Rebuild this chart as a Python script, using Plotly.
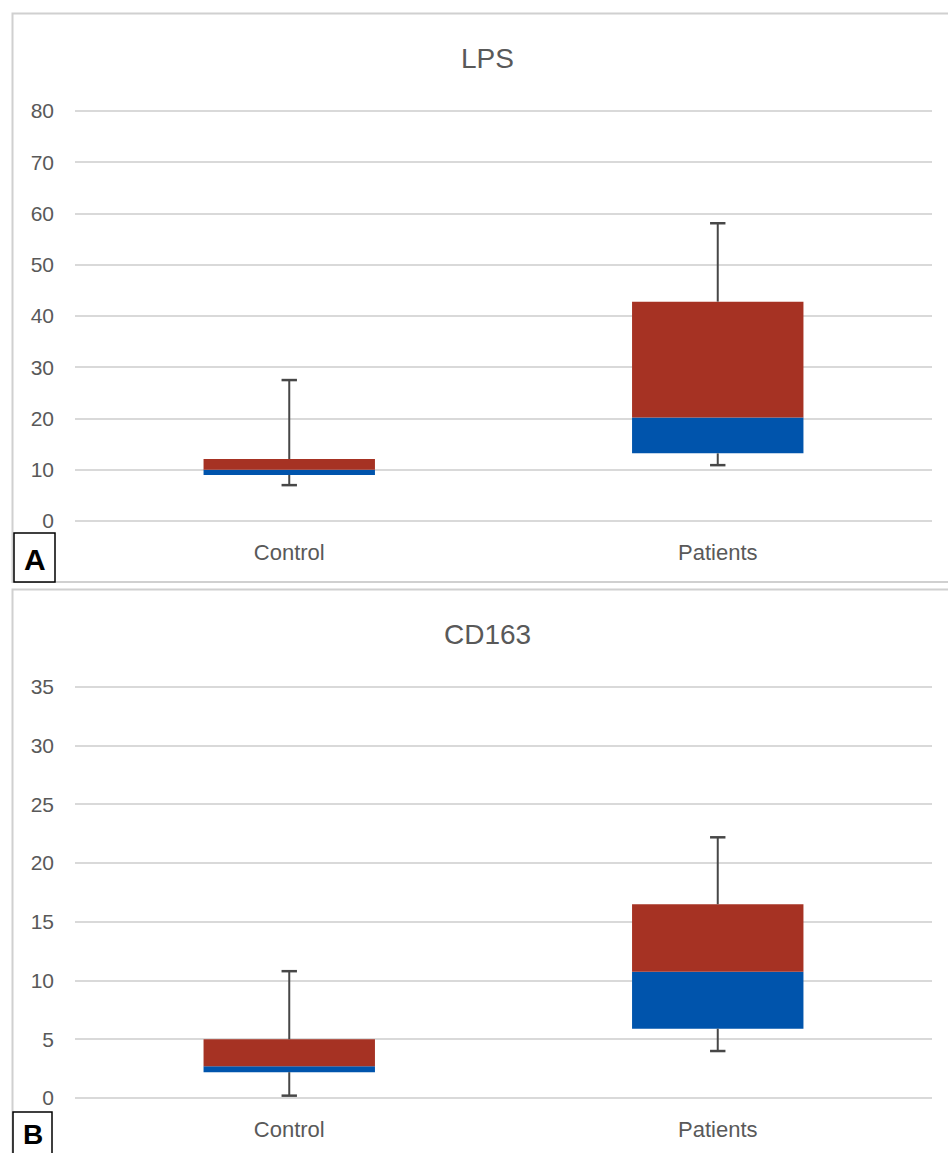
import plotly.graph_objects as go

W, H = 948, 1153

categories = ["Control", "Patients"]

# Panel A: LPS
lps_min = [7.0, 10.9]
lps_q1 = [9.0, 13.2]
lps_median = [10.0, 20.2]
lps_q3 = [12.1, 42.8]
lps_max = [27.5, 58.1]

# Panel B: CD163
cd_min = [0.2, 4.0]
cd_q1 = [2.2, 5.9]
cd_median = [2.7, 10.75]
cd_q3 = [5.0, 16.5]
cd_max = [10.8, 22.2]

lps_ticks = [0, 10, 20, 30, 40, 50, 60, 70, 80]
cd_ticks = [0, 5, 10, 15, 20, 25, 30, 35]

BLUE = "#0054AC"
RED = "#A63223"
WHISK = "#474747"
TXT = "#595959"
GRID = "#D9D9D9"
FONT = "Liberation Sans, Arial, sans-serif"


def px_x(x):
    return x / W


def px_y(y):
    return 1 - y / H


fig = go.Figure()


def add_panel(xa, ya, mn, q1, med, q3, mx):
    xr = "x" if xa == 1 else f"x{xa}"
    yr = "y" if ya == 1 else f"y{ya}"
    fig.add_trace(go.Bar(x=categories, base=q1, y=[m - a for m, a in zip(med, q1)],
                         marker=dict(color=BLUE, line=dict(width=0)), width=0.4,
                         xaxis=xr, yaxis=yr, showlegend=False))
    fig.add_trace(go.Bar(x=categories, base=med, y=[b - m for b, m in zip(q3, med)],
                         marker=dict(color=RED, line=dict(width=0)), width=0.4,
                         xaxis=xr, yaxis=yr, showlegend=False))
    # whisker stems
    fig.add_trace(go.Scatter(x=categories, y=q3, mode="markers",
                             marker=dict(size=1, opacity=0),
                             error_y=dict(type="data", symmetric=False,
                                          array=[b - a for b, a in zip(mx, q3)],
                                          arrayminus=[0, 0], width=0,
                                          color=WHISK, thickness=2),
                             xaxis=xr, yaxis=yr, showlegend=False))
    fig.add_trace(go.Scatter(x=categories, y=q1, mode="markers",
                             marker=dict(size=1, opacity=0),
                             error_y=dict(type="data", symmetric=False,
                                          array=[0, 0],
                                          arrayminus=[a - b for a, b in zip(q1, mn)], width=0,
                                          color=WHISK, thickness=2),
                             xaxis=xr, yaxis=yr, showlegend=False))
    # caps
    fig.add_trace(go.Scatter(x=categories + categories, y=list(mx) + list(mn), mode="markers",
                             marker=dict(symbol="line-ew-open", size=11, color=WHISK,
                                         line=dict(color=WHISK, width=2.5)),
                             xaxis=xr, yaxis=yr, showlegend=False))


add_panel(1, 1, lps_min, lps_q1, lps_median, lps_q3, lps_max)
add_panel(2, 2, cd_min, cd_q1, cd_median, cd_q3, cd_max)

xdom = [px_x(75), px_x(932)]

common_x = dict(type="category", range=[-0.5, 1.5], domain=xdom, showgrid=False,
                zeroline=False, showline=False, ticks="", automargin=False,
                tickfont=dict(family=FONT, size=22, color=TXT), ticklabelstandoff=16)
common_y = dict(showgrid=True, gridcolor=GRID, gridwidth=2, zeroline=True,
                zerolinecolor=GRID, zerolinewidth=2, showline=False, ticks="",
                automargin=False,
                tickfont=dict(family=FONT, size=21, color=TXT), ticklabelstandoff=20)

# pixel scale: LPS 5.125 px/unit, CD163 11.743 px/unit (small headroom so top gridline shows)
lps_top = 80.4
cd_top = 35.2

fig.update_layout(
    width=W, height=H, margin=dict(l=0, r=0, t=0, b=0, autoexpand=False),
    paper_bgcolor="white", plot_bgcolor="white",
    barmode="overlay", bargap=0.6,
    xaxis=dict(**common_x, anchor="y"),
    yaxis=dict(**common_y, anchor="x", domain=[px_y(521), px_y(521 - lps_top * 5.125)],
               range=[0, lps_top], tickvals=lps_ticks),
    xaxis2=dict(**common_x, anchor="y2"),
    yaxis2=dict(**common_y, anchor="x2", domain=[px_y(1098), px_y(1098 - cd_top * 11.743)],
                range=[0, cd_top], tickvals=cd_ticks),
)

BORDER = "#D0D0D0"
shapes = [
    dict(type="rect", xref="paper", yref="paper", x0=px_x(12.5), x1=px_x(962),
         y0=px_y(582), y1=px_y(13.5), line=dict(color=BORDER, width=2), layer="below"),
    dict(type="rect", xref="paper", yref="paper", x0=px_x(12.5), x1=px_x(962),
         y0=px_y(1170), y1=px_y(589.5), line=dict(color=BORDER, width=2), layer="below"),
    dict(type="rect", xref="paper", yref="paper", x0=px_x(14), x1=px_x(55),
         y0=px_y(582), y1=px_y(533), line=dict(color="black", width=1.5), fillcolor="white"),
    dict(type="rect", xref="paper", yref="paper", x0=px_x(13), x1=px_x(52),
         y0=px_y(1160), y1=px_y(1112), line=dict(color="black", width=1.5), fillcolor="white"),
]
fig.update_layout(shapes=shapes)

annotations = [
    dict(text="LPS", x=px_x(487), y=px_y(58), xref="paper", yref="paper", showarrow=False,
         xanchor="center", yanchor="middle", font=dict(family=FONT, size=28, color=TXT)),
    dict(text="CD163", x=px_x(487), y=px_y(634), xref="paper", yref="paper", showarrow=False,
         xanchor="center", yanchor="middle", font=dict(family=FONT, size=28, color=TXT)),
    dict(text="<b>A</b>", x=px_x(34.5), y=px_y(559), xref="paper", yref="paper", showarrow=False,
         xanchor="center", yanchor="middle",
         font=dict(family=FONT, size=30, color="black")),
    dict(text="<b>B</b>", x=px_x(32.5), y=px_y(1134), xref="paper", yref="paper", showarrow=False,
         xanchor="center", yanchor="middle",
         font=dict(family=FONT, size=28, color="black")),
]
fig.update_layout(annotations=annotations)

fig.write_html("out.html", config={"displayModeBar": False},
               post_script="document.body.style.margin='0';")
